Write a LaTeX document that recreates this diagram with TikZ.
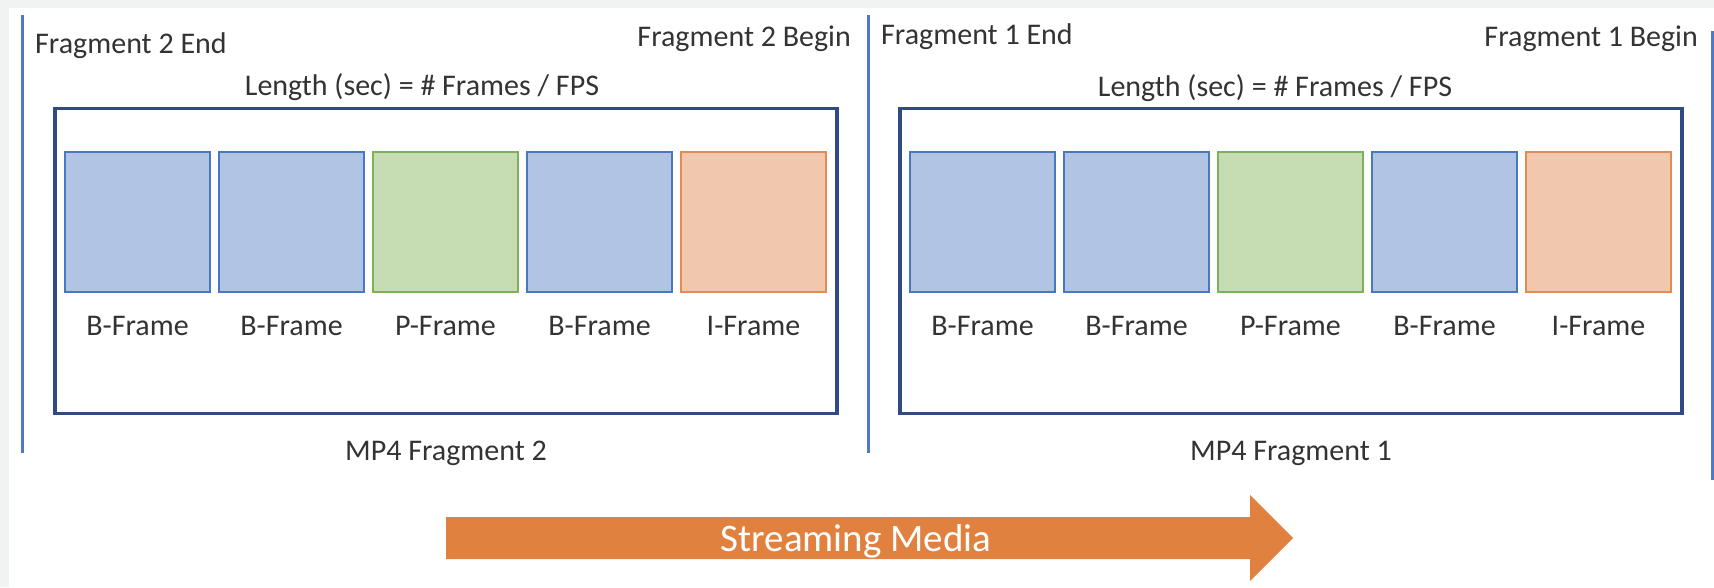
\documentclass[tikz,border=0pt]{standalone}
\usepackage{fontspec}
\setmainfont{Carlito}

\definecolor{pagegray}{HTML}{F1F3F2}
\definecolor{divider}{HTML}{5078C4}
\definecolor{boxnavy}{HTML}{2F4A85}
\definecolor{bfill}{HTML}{B1C4E4}
\definecolor{bdraw}{HTML}{4A78C0}
\definecolor{pfill}{HTML}{C6DDB4}
\definecolor{pdraw}{HTML}{7EB05A}
\definecolor{ifill}{HTML}{F1C8AE}
\definecolor{idraw}{HTML}{E58A52}
\definecolor{arrowfill}{HTML}{E0813F}
\definecolor{ink}{HTML}{333333}

\tikzset{
  divline/.style={draw=divider, line width=3pt},
  fragbox/.style={draw=boxnavy, line width=3.5pt, fill=white, inner sep=0pt,
    minimum width=782pt, minimum height=305pt},
  framebox/.style={line width=2pt, inner sep=0pt,
    minimum width=145pt, minimum height=140pt},
  bframe/.style={framebox, draw=bdraw, fill=bfill},
  pframe/.style={framebox, draw=pdraw, fill=pfill},
  iframe/.style={framebox, draw=idraw, fill=ifill},
  txt/.style={font=\fontsize{30}{36}\selectfont, text=ink, inner sep=0pt},
  bigtxt/.style={font=\fontsize{39}{46}\selectfont, text=white, inner sep=0pt},
}

\begin{document}
\begin{tikzpicture}[x=1pt, y=-1pt]
  \useasboundingbox (0,0) rectangle (1714,587);
  % page backdrop
  \fill[pagegray] (0,0) rectangle (1714,587);
  \fill[white] (9,8) rectangle (1714,587);

  % fragment boundaries
  \draw[divline] (22,15) -- (22,453);
  \draw[divline] (868,15) -- (868,453);
  \draw[divline] (1712,31) -- (1712,480);

  % boundary captions
  \node[txt, anchor=base west] (end2) at (35,53) {Fragment 2 End};
  \node[txt, anchor=base east] (begin2) at (851,46) {Fragment 2 Begin};
  \node[txt, anchor=base west] (end1) at (881,44) {Fragment 1 End};
  \node[txt, anchor=base east] (begin1) at (1698,46) {Fragment 1 Begin};

  % the two fragments with their frames
  \foreach \off/\n/\lx/\ly in {0/2/422/95, 845/1/1275/96} {
    \node[txt, anchor=base] (len\n) at (\lx,\ly) {Length (sec) = \# Frames / FPS};
    \node[fragbox] (box\n) at (446+\off,261) {};
    \foreach \ty/\lab [count=\i from 0] in
        {bframe/B-Frame, bframe/B-Frame, pframe/P-Frame, bframe/B-Frame, iframe/I-Frame} {
      \node[\ty] (fr\n-\i) at (137.5+154*\i+\off,222) {};
      \node[txt, anchor=base] (lab\n-\i) at (137.5+154*\i+\off,335) {\lab};
    }
    \node[txt, anchor=base] (mp\n) at (446+\off,460) {MP4 Fragment \n};
  }

  % streaming direction
  \fill[arrowfill] (446,517) -- (1250,517) -- (1250,495) -- (1293,538)
    -- (1250,581) -- (1250,559) -- (446,559) -- cycle;
  \node[bigtxt, anchor=base] (stream) at (856,551) {Streaming Media};
\end{tikzpicture}
\end{document}
